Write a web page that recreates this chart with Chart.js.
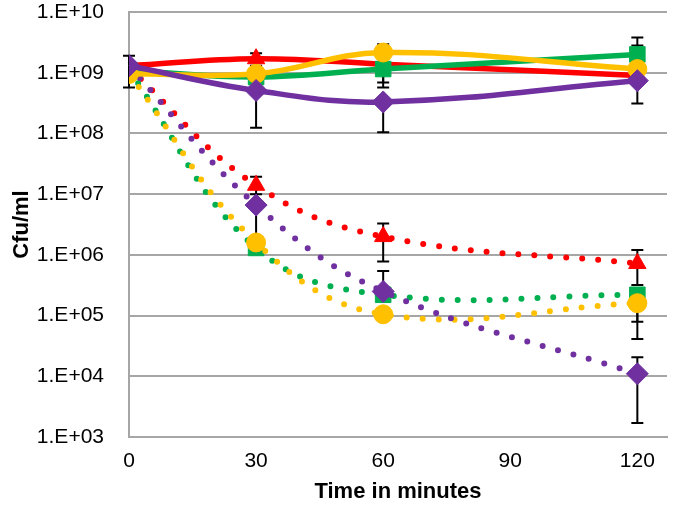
<!DOCTYPE html>
<html>
<head>
<meta charset="utf-8">
<script src="https://cdn.jsdelivr.net/npm/chart.js@4/dist/chart.umd.min.js"></script>
<style>
html,body{margin:0;padding:0;background:#fff;}
#wrap{width:680px;height:505px;}
</style>
</head>
<body>
<div id="wrap"><canvas id="c" width="680" height="505"></canvas></div>
<script>
// ---- data ----
const times = [0, 30, 60, 120];
const xTicks = [0, 30, 60, 90, 120];
const yTickExponents = [3, 4, 5, 6, 7, 8, 9, 10];

// solid series (means)
const redSolid    = [1.3e9, 1.7e9, 1.38e9, 9.0e8];
const greenSolid  = [1.1e9, 8.5e8, 1.15e9, 2.0e9];
const yellowSolid = [9.6e8, 9.6e8, 2.15e9, 1.15e9];
const purpleSolid = [1.3e9, 5.1e8, 3.3e8, 7.4e8];
// dotted series (means)
const redDotted    = [1.2e9, 1.4e7, 2.0e6, 7.2e5];
const greenDotted  = [1.1e9, 1.3e6, 2.2e5, 2.2e5];
const yellowDotted = [9.6e8, 1.6e6, 1.05e5, 1.6e5];
const purpleDotted = [1.3e9, 6.6e6, 2.5e5, 1.1e4];

// error bar limits (low, high); null = not shown
const redSolidLow     = [5.7e8, 1.3e9, null, null];
const redSolidHigh    = [1.9e9, 2.1e9, null, null];
const greenSolidLow   = [null, null, 5.7e8, null];
const greenSolidHigh  = [null, null, null, 3.8e9];
const yellowSolidLow  = [null, null, 6.9e8, null];
const yellowSolidHigh = [null, null, 2.95e9, 2.8e9];
const purpleSolidLow  = [null, 1.24e8, 1.05e8, 3.1e8];
const purpleSolidHigh = [null, null, null, null];

const redDottedLow     = [null, 1.0e7, 7.8e5, 3.2e5];
const redDottedHigh    = [null, 1.93e7, 3.3e6, 1.2e6];
const greenDottedLow   = [null, null, null, 4.1e4];
const greenDottedHigh  = [null, null, null, null];
const yellowDottedLow  = [null, null, null, 7.9e4];
const yellowDottedHigh = [null, null, null, null];
const purpleDottedLow  = [null, 1.96e6, null, 1.7e3];
const purpleDottedHigh = [null, null, 5.4e5, 2.05e4];

const RED = '#FF0000', GREEN = '#00B050', YELLOW = '#FFC000', PURPLE = '#7030A0';

function pts(vals) { return times.map((t, i) => ({x: t, y: vals[i]})); }

function solid(vals, color, style, radius, low, high) {
  return {
    data: pts(vals), borderColor: color, backgroundColor: color,
    borderWidth: 5.5, tension: 0.4, pointStyle: style, pointRadius: radius,
    pointBorderColor: color, pointBackgroundColor: color, pointBorderWidth: 1,
    errLow: low, errHigh: high
  };
}
function dotted(vals, color, style, radius, low, high) {
  return {
    data: pts(vals), borderColor: color, backgroundColor: color,
    borderWidth: 6, borderDash: [0, 16], borderCapStyle: 'round', tension: 0.4,
    pointStyle: style, pointRadius: radius,
    pointBorderColor: color, pointBackgroundColor: color, pointBorderWidth: 1,
    errLow: low, errHigh: high
  };
}

// dataset index 0 is drawn on top
const datasets = [
  solid(purpleSolid, PURPLE, 'rectRot', 11, purpleSolidLow, purpleSolidHigh),
  solid(yellowSolid, YELLOW, 'circle', 9.5, yellowSolidLow, yellowSolidHigh),
  solid(greenSolid, GREEN, 'rect', 11, greenSolidLow, greenSolidHigh),
  solid(redSolid, RED, 'triangle', 10, redSolidLow, redSolidHigh),
  dotted(purpleDotted, PURPLE, 'rectRot', 11, purpleDottedLow, purpleDottedHigh),
  dotted(yellowDotted, YELLOW, 'circle', 9.5, yellowDottedLow, yellowDottedHigh),
  dotted(greenDotted, GREEN, 'rect', 11, greenDottedLow, greenDottedHigh),
  dotted(redDotted, RED, 'triangle', 10, redDottedLow, redDottedHigh)
];

const errorBars = {
  id: 'errorBars',
  beforeDatasetsDraw(chart) {
    const ctx = chart.ctx, xs = chart.scales.x, ys = chart.scales.y;
    ctx.save();
    ctx.strokeStyle = '#000';
    ctx.lineWidth = 2;
    const cap = 6;
    chart.data.datasets.forEach(ds => {
      ds.data.forEach((p, i) => {
        const px = xs.getPixelForValue(p.x);
        const py = ys.getPixelForValue(p.y);
        const lo = ds.errLow[i], hi = ds.errHigh[i];
        [lo, hi].forEach(v => {
          if (v == null) return;
          const vy = ys.getPixelForValue(v);
          ctx.beginPath();
          ctx.moveTo(px, py); ctx.lineTo(px, vy);
          ctx.moveTo(px - cap, vy); ctx.lineTo(px + cap, vy);
          ctx.stroke();
        });
      });
    });
    ctx.restore();
  }
};

const FONT = "'Liberation Sans', Arial, sans-serif";
const GRID = '#A6A6A6';

new Chart(document.getElementById('c'), {
  type: 'line',
  data: { datasets },
  plugins: [errorBars],
  options: {
    responsive: false, animation: false, devicePixelRatio: 1,
    layout: { padding: { top: 9, right: 13, left: 0, bottom: 0 } },
    plugins: { legend: { display: false }, tooltip: { enabled: false } },
    scales: {
      x: {
        type: 'linear', min: 0, max: 127,
        afterBuildTicks: s => { s.ticks = xTicks.map(v => ({value: v})); },
        afterFit: s => { s.height = 68; s.paddingLeft = 0; s.paddingRight = 0; },
        grid: { display: false, drawTicks: false },
        border: { display: true, color: GRID, width: 2 },
        ticks: { color: '#000', font: { family: FONT, size: 21 }, padding: 12, maxRotation: 0 },
        title: { display: true, text: 'Time in minutes', color: '#000',
                 font: { family: FONT, size: 22, weight: 'bold' }, padding: { top: 0, bottom: 0 } }
      },
      y: {
        type: 'logarithmic', min: 1e3, max: 1e10,
        afterBuildTicks: s => { s.ticks = yTickExponents.map(e => ({value: Math.pow(10, e)})); },
        afterFit: s => { s.width = 129; s.paddingTop = 0; s.paddingBottom = 0; },
        grid: { display: true, color: GRID, lineWidth: 2, drawTicks: false },
        border: { display: true, color: GRID, width: 2 },
        ticks: {
          color: '#000', font: { family: FONT, size: 21 }, padding: 25,
          callback: v => { const e = Math.round(Math.log10(v)); return '1.E+' + (e < 10 ? '0' + e : e); }
        },
        title: { display: true, text: 'Cfu/ml', color: '#000',
                 font: { family: FONT, size: 22, weight: 'bold' }, padding: { top: 9, bottom: 0 } }
      }
    }
  }
});
</script>
</body>
</html>
